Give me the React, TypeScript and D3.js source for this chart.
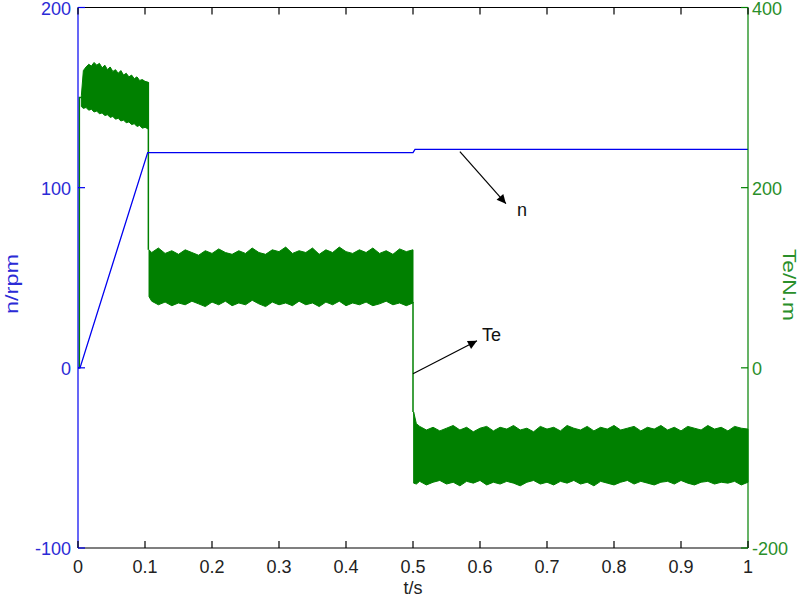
import React, { useEffect, useRef } from 'react';
import * as d3 from 'd3';

// axis ticks
const timeTicks = [0, 0.1, 0.2, 0.3, 0.4, 0.5, 0.6, 0.7, 0.8, 0.9, 1];
const speedTicks = [-100, 0, 100, 200];
const torqueTicks = [-200, 0, 200, 400];

// speed n (rpm)
const speedTime = [0, 0.003, 0.104, 0.5, 0.503, 1];
const speedValue = [0, 0, 119.5, 119.5, 121.3, 121.3];

// torque Te: thin connecting strokes between ripple bands
const torqueStrokes: [number, number][][] = [
  [[0, 0], [0.002, 0], [0.002, 300], [0.006, 300]],
  [[0.105, 317], [0.105, 131]],
  [[0.5, 73], [0.5, -49]],
];

// torque ripple envelopes (upper / lower edge)
const band1Time = [0.005, 0.008, 0.012, 0.016, 0.02, 0.024, 0.028, 0.032, 0.036, 0.04,
  0.044, 0.048, 0.052, 0.056, 0.06, 0.064, 0.068, 0.072, 0.076, 0.08,
  0.084, 0.088, 0.092, 0.096, 0.1, 0.105];
const band1Upper = [302, 330, 334, 337, 335, 339, 336, 338, 333, 336,
  331, 334, 329, 331, 327, 330, 325, 327, 323, 325,
  321, 323, 319, 320, 318, 317];
const band1Lower = [290, 288, 289, 286, 287, 284, 285, 282, 283, 280,
  281, 278, 279, 276, 277, 274, 275, 272, 273, 270,
  271, 268, 269, 266, 267, 265];

const band2Time = [0.106, 0.11, 0.12, 0.13, 0.14, 0.15, 0.16, 0.17, 0.18, 0.19,
  0.2, 0.21, 0.22, 0.23, 0.24, 0.25, 0.26, 0.27, 0.28, 0.29,
  0.3, 0.31, 0.32, 0.33, 0.34, 0.35, 0.36, 0.37, 0.38, 0.39,
  0.4, 0.41, 0.42, 0.43, 0.44, 0.45, 0.46, 0.47, 0.48, 0.49, 0.5];
const band2Upper = [131, 128, 133, 127, 130, 126, 131, 128, 125, 130,
  127, 132, 128, 126, 130, 127, 133, 128, 126, 131,
  129, 134, 127, 130, 128, 133, 126, 131, 128, 134,
  129, 127, 131, 128, 133, 127, 130, 126, 132, 129, 131];
const band2Lower = [79, 74, 70, 73, 69, 72, 70, 74, 71, 68,
  73, 70, 74, 69, 72, 70, 75, 71, 68, 73,
  70, 72, 69, 74, 70, 72, 68, 73, 70, 74,
  69, 72, 70, 73, 69, 71, 74, 70, 72, 69, 72];

const band3Time = [0.501, 0.505, 0.51, 0.52, 0.53, 0.54, 0.55, 0.56, 0.57, 0.58,
  0.59, 0.6, 0.61, 0.62, 0.63, 0.64, 0.65, 0.66, 0.67, 0.68,
  0.69, 0.7, 0.71, 0.72, 0.73, 0.74, 0.75, 0.76, 0.77, 0.78,
  0.79, 0.8, 0.81, 0.82, 0.83, 0.84, 0.85, 0.86, 0.87, 0.88,
  0.89, 0.9, 0.91, 0.92, 0.93, 0.94, 0.95, 0.96, 0.97, 0.98, 0.99, 1];
const band3Upper = [-49, -62, -65, -69, -66, -70, -67, -64, -69, -66,
  -71, -67, -65, -70, -66, -68, -64, -69, -67, -71,
  -65, -68, -66, -70, -64, -67, -69, -65, -70, -66,
  -68, -64, -69, -67, -65, -70, -66, -68, -64, -69,
  -66, -70, -65, -67, -69, -64, -68, -66, -70, -65, -67, -68];
const band3Lower = [-128, -129, -126, -130, -127, -125, -129, -127, -131, -126,
  -128, -125, -130, -127, -129, -126, -128, -131, -127, -125,
  -129, -127, -130, -126, -128, -125, -129, -127, -131, -126,
  -128, -130, -127, -125, -129, -126, -128, -130, -127, -126,
  -129, -125, -128, -130, -127, -126, -129, -127, -128, -126, -130, -127];

const bands = [
  { time: band1Time, upper: band1Upper, lower: band1Lower },
  { time: band2Time, upper: band2Upper, lower: band2Lower },
  { time: band3Time, upper: band3Upper, lower: band3Lower },
];

// annotations: [t, value on own axis] of arrow start, label
const speedNote = { at: [0.57, 120], label: 'n' };
const torqueNote = { at: [0.5, -10], label: 'Te' };

const BLUE = '#0000f0';
const BLUE_TEXT = '#2b2bd6';
const GREEN = '#008000';
const GREEN_TEXT = '#2a8f2a';

const App: React.FC = () => {
  const svgRef = useRef<SVGSVGElement>(null);
  const width = 800;
  const height = 600;

  useEffect(() => {
    if (!svgRef.current) return;
    const svg = d3.select(svgRef.current);
    svg.selectAll('*').remove();

    const margin = { top: 7.5, right: 52, bottom: 52, left: 78 };
    const x = d3.scaleLinear().domain([0, 1]).range([margin.left, width - margin.right]);
    const yN = d3.scaleLinear().domain([-100, 200]).range([height - margin.bottom, margin.top]);
    const yT = d3.scaleLinear().domain([-200, 400]).range([height - margin.bottom, margin.top]);
    const font = '"Liberation Sans", Arial, sans-serif';
    const [x0, x1] = x.range();
    const [yb, yt] = yN.range();

    const defs = svg.append('defs');
    defs.append('marker')
      .attr('id', 'head')
      .attr('viewBox', '0 0 10 10')
      .attr('refX', 10).attr('refY', 5)
      .attr('markerWidth', 12).attr('markerHeight', 9)
      .attr('markerUnits', 'userSpaceOnUse')
      .attr('orient', 'auto')
      .append('path').attr('d', 'M0,0L10,5L0,10Z').attr('fill', '#000');

    // torque ripple bands
    bands.forEach((b) => {
      const pts = b.time.map((t, i) => ({ t, hi: b.upper[i], lo: b.lower[i] }));
      const area = d3.area<any>()
        .x((d) => x(d.t))
        .y0((d) => yT(d.lo))
        .y1((d) => yT(d.hi));
      svg.append('path')
        .attr('d', area(pts))
        .attr('fill', GREEN)
        .attr('stroke', GREEN)
        .attr('stroke-width', 1);
    });

    const line = d3.line<[number, number]>().x((d) => x(d[0]));
    torqueStrokes.forEach((s) => {
      svg.append('path')
        .attr('d', line.y((d) => yT(d[1]))(s))
        .attr('fill', 'none')
        .attr('stroke', GREEN)
        .attr('stroke-width', 1.5);
    });

    // speed
    const speedPts = speedTime.map((t, i) => [t, speedValue[i]] as [number, number]);
    svg.append('path')
      .attr('d', line.y((d) => yN(d[1]))(speedPts))
      .attr('fill', 'none')
      .attr('stroke', BLUE)
      .attr('stroke-width', 1.3);

    // frame
    svg.append('line').attr('x1', x0).attr('x2', x1).attr('y1', yt).attr('y2', yt)
      .attr('stroke', '#000').attr('stroke-width', 1.2);
    svg.append('line').attr('x1', x0).attr('x2', x1).attr('y1', yb).attr('y2', yb)
      .attr('stroke', '#000').attr('stroke-width', 1.2);
    svg.append('line').attr('x1', x0).attr('x2', x0).attr('y1', yt).attr('y2', yb)
      .attr('stroke', BLUE).attr('stroke-width', 1.2);
    svg.append('line').attr('x1', x1).attr('x2', x1).attr('y1', yt).attr('y2', yb)
      .attr('stroke', GREEN).attr('stroke-width', 1.2);

    const tickLen = 7;
    timeTicks.forEach((t) => {
      svg.append('line').attr('x1', x(t)).attr('x2', x(t)).attr('y1', yb).attr('y2', yb - tickLen)
        .attr('stroke', '#000').attr('stroke-width', 1.2);
      svg.append('line').attr('x1', x(t)).attr('x2', x(t)).attr('y1', yt).attr('y2', yt + tickLen)
        .attr('stroke', '#000').attr('stroke-width', 1.2);
      svg.append('text').attr('x', x(t)).attr('y', yb + 19)
        .attr('text-anchor', 'middle').attr('dominant-baseline', 'central')
        .attr('font-family', font).attr('font-size', 18).attr('fill', '#222')
        .text(String(t));
    });
    speedTicks.forEach((v) => {
      svg.append('line').attr('x1', x0).attr('x2', x0 + tickLen).attr('y1', yN(v)).attr('y2', yN(v))
        .attr('stroke', BLUE).attr('stroke-width', 1.2);
      svg.append('text').attr('x', x0 - 7).attr('y', yN(v) + 1)
        .attr('text-anchor', 'end').attr('dominant-baseline', 'central')
        .attr('font-family', font).attr('font-size', 18).attr('fill', BLUE_TEXT)
        .text(String(v));
    });
    torqueTicks.forEach((v) => {
      svg.append('line').attr('x1', x1).attr('x2', x1 - tickLen).attr('y1', yT(v)).attr('y2', yT(v))
        .attr('stroke', GREEN).attr('stroke-width', 1.2);
      svg.append('text').attr('x', x1 + 4).attr('y', yT(v) + 1)
        .attr('text-anchor', 'start').attr('dominant-baseline', 'central')
        .attr('font-family', font).attr('font-size', 18).attr('fill', GREEN_TEXT)
        .text(String(v));
    });

    // axis titles
    svg.append('text').attr('x', (x0 + x1) / 2).attr('y', 588)
      .attr('text-anchor', 'middle').attr('dominant-baseline', 'central')
      .attr('font-family', font).attr('font-size', 18).attr('fill', '#222')
      .text('t/s');
    svg.append('text')
      .attr('transform', `translate(12,284) rotate(-90)`)
      .attr('text-anchor', 'middle').attr('dominant-baseline', 'central')
      .attr('font-family', font).attr('font-size', 18).attr('fill', BLUE_TEXT)
      .attr('textLength', 60).attr('lengthAdjust', 'spacingAndGlyphs')
      .text('n/rpm');
    svg.append('text')
      .attr('transform', `translate(789,285) rotate(90)`)
      .attr('text-anchor', 'middle').attr('dominant-baseline', 'central')
      .attr('font-family', font).attr('font-size', 18).attr('fill', GREEN_TEXT)
      .attr('textLength', 72).attr('lengthAdjust', 'spacingAndGlyphs')
      .text('Te/N.m');

    // annotations
    const sx = x(speedNote.at[0]);
    const sy = yN(speedNote.at[1]);
    svg.append('line').attr('x1', sx).attr('y1', sy).attr('x2', sx + 46).attr('y2', sy + 52)
      .attr('stroke', '#000').attr('stroke-width', 1.2).attr('marker-end', 'url(#head)');
    svg.append('text').attr('x', sx + 57).attr('y', sy + 58)
      .attr('dominant-baseline', 'central')
      .attr('font-family', font).attr('font-size', 18).attr('fill', '#111')
      .text(speedNote.label);
    const tx = x(torqueNote.at[0]);
    const ty = yT(torqueNote.at[1]) - 3;
    svg.append('line').attr('x1', tx).attr('y1', ty).attr('x2', tx + 64).attr('y2', ty - 33)
      .attr('stroke', '#000').attr('stroke-width', 1.2).attr('marker-end', 'url(#head)');
    svg.append('text').attr('x', tx + 69).attr('y', ty - 39)
      .attr('dominant-baseline', 'central')
      .attr('font-family', font).attr('font-size', 18).attr('fill', '#111')
      .text(torqueNote.label);
  }, []);

  return (
    <svg
      ref={svgRef}
      width={width}
      height={height}
      style={{ position: 'absolute', left: 0, top: 0, background: '#fff' }}
    />
  );
};

export default App;
